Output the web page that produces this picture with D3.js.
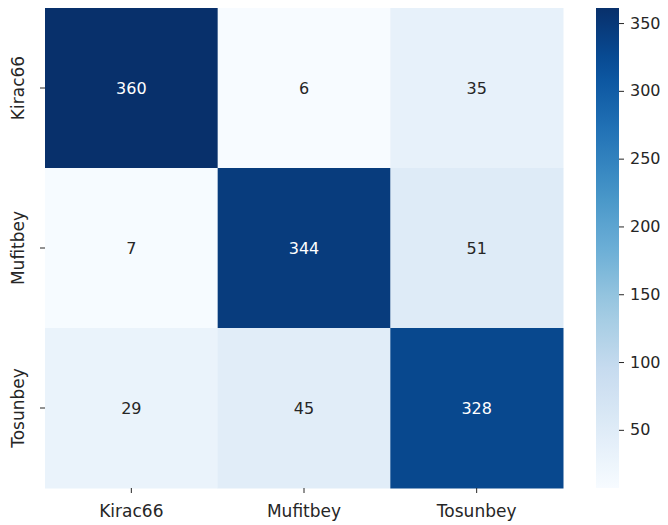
<!DOCTYPE html>
<html>
<head>
<meta charset="utf-8">
<script src="https://cdn.jsdelivr.net/npm/d3@7"></script>
<style>
  body { margin: 0; background: #fff; }
  text { font-family: "DejaVu Sans", sans-serif; }
</style>
</head>
<body>
<div id="chart"></div>
<script>
// labels and confusion matrix values
var labels = ["Kirac66", "Mufitbey", "Tosunbey"];
var row0 = [360, 6, 35];
var row1 = [7, 344, 51];
var row2 = [29, 45, 328];
var colorTicks = [50, 100, 150, 200, 250, 300, 350];

var rows = [row0, row1, row2];
var cells = [];
rows.forEach(function(r, i) {
  r.forEach(function(v, j) {
    cells.push({ row: labels[i], col: labels[j], value: v });
  });
});

var svgWidth = 668, svgHeight = 525;
var margin = { top: 8, left: 45 };
var width = 518, height = 480;

var svg = d3.select("#chart").append("svg")
  .attr("width", svgWidth)
  .attr("height", svgHeight);

var chartGroup = svg.append("g")
  .attr("transform", `translate(${margin.left}, ${margin.top})`);

var x = d3.scaleBand().domain(labels).range([0, width]);
var y = d3.scaleBand().domain(labels).range([0, height]);

var vmin = d3.min(cells, d => d.value);
var vmax = d3.max(cells, d => d.value);
var color = d3.scaleSequential(d3.piecewise(d3.interpolateRgb, d3.schemeBlues[9]))
  .domain([vmin, vmax]);

chartGroup.selectAll("rect.cell")
  .data(cells)
  .enter()
  .append("rect")
  .attr("class", "cell")
  .attr("x", d => x(d.col))
  .attr("y", d => y(d.row))
  .attr("width", x.bandwidth() + 0.5)
  .attr("height", y.bandwidth() + 0.5)
  .attr("fill", d => color(d.value));

chartGroup.selectAll("text.val")
  .data(cells)
  .enter()
  .append("text")
  .attr("class", "val")
  .attr("x", d => x(d.col) + x.bandwidth() / 2)
  .attr("y", d => y(d.row) + y.bandwidth() / 2)
  .attr("text-anchor", "middle")
  .attr("dy", "0.35em")
  .attr("font-size", 16)
  .attr("fill", d => (d.value - vmin) / (vmax - vmin) > 0.5 ? "#ffffff" : "#262626")
  .text(d => d.value);

// axes
var bottomAxis = d3.axisBottom(x).tickSize(5).tickPadding(12);
var leftAxis = d3.axisLeft(y).tickSize(5).tickPadding(6);

var xg = chartGroup.append("g")
  .attr("transform", `translate(0, ${height})`)
  .call(bottomAxis);
xg.select(".domain").remove();
xg.selectAll("text").attr("font-size", 17).attr("fill", "#262626").attr("font-family", "DejaVu Sans");
xg.selectAll("line").attr("stroke", "#262626");

var yg = chartGroup.append("g").call(leftAxis);
yg.select(".domain").remove();
yg.selectAll("line").attr("stroke", "#262626");
yg.selectAll("text")
  .attr("font-size", 17)
  .attr("fill", "#262626")
  .attr("font-family", "DejaVu Sans")
  .attr("text-anchor", "middle")
  .attr("x", 0)
  .attr("dy", 0)
  .attr("transform", "translate(-21,0) rotate(-90)");

// colorbar
var cbX = 596, cbW = 23;
var cbScale = d3.scaleLinear().domain([vmin, vmax]).range([margin.top + height, margin.top]);

var defs = svg.append("defs");
var grad = defs.append("linearGradient")
  .attr("id", "cbgrad")
  .attr("x1", 0).attr("y1", 1).attr("x2", 0).attr("y2", 0);
d3.range(0, 1.0001, 0.05).forEach(function(t) {
  grad.append("stop")
    .attr("offset", t)
    .attr("stop-color", color(vmin + t * (vmax - vmin)));
});

svg.append("rect")
  .attr("x", cbX)
  .attr("y", margin.top)
  .attr("width", cbW)
  .attr("height", height)
  .attr("fill", "url(#cbgrad)");

var cbAxis = d3.axisRight(cbScale).tickValues(colorTicks).tickSize(5).tickPadding(6);
var cg = svg.append("g")
  .attr("transform", `translate(${cbX + cbW}, 1.5)`)
  .call(cbAxis);
cg.select(".domain").remove();
cg.selectAll("line").attr("stroke", "#262626");
cg.selectAll("text").attr("font-size", 16).attr("fill", "#262626").attr("font-family", "DejaVu Sans");
</script>
</body>
</html>
